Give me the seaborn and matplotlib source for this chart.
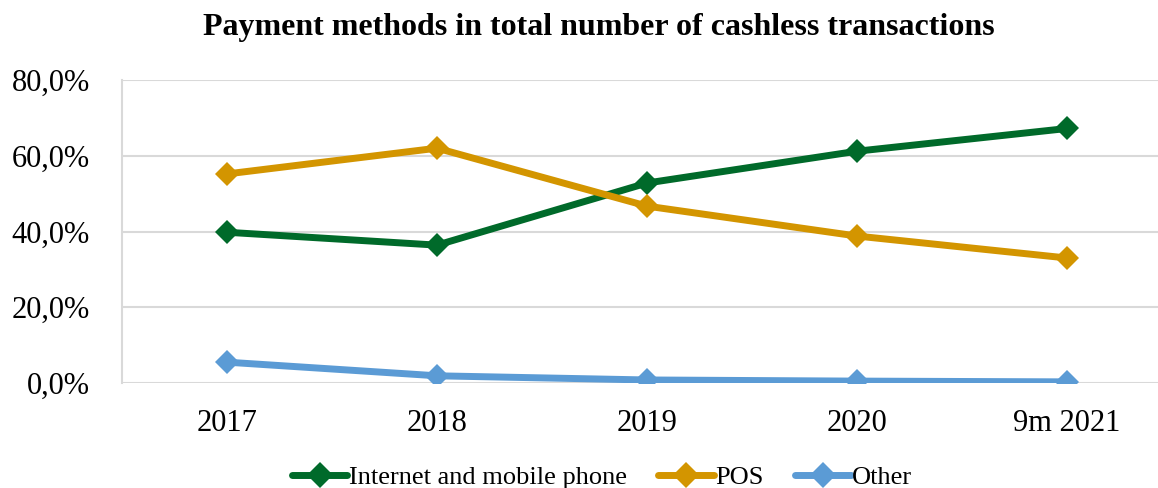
import pandas as pd
import seaborn as sns
import matplotlib.pyplot as plt
from matplotlib.ticker import FuncFormatter

years = ["2017", "2018", "2019", "2020", "9m 2021"]
internet = [39.8, 36.4, 52.8, 61.2, 67.2]
pos = [55.2, 62.0, 46.7, 38.8, 33.0]
other = [5.5, 1.9, 0.8, 0.5, 0.3]
series = ["Internet and mobile phone", "POS", "Other"]
colors = ["#006A2A", "#D39500", "#5B9BD5"]

df = pd.DataFrame({
    "year": years * 3,
    "share": internet + pos + other,
    "method": [s for s in series for _ in years],
})

sns.set_style("white")
plt.rcParams["font.family"] = ["Liberation Serif", "DejaVu Serif"]
plt.rcParams["text.color"] = "black"
plt.rcParams["xtick.color"] = "black"
plt.rcParams["ytick.color"] = "black"

fig = plt.figure(figsize=(11.58, 4.88), dpi=100)
ax = fig.add_axes([122 / 1158, 1 - 383 / 488, 1050 / 1158, 303 / 488])

sns.lineplot(data=df, x="year", y="share", hue="method", style="method",
             palette=colors, markers=["D"] * 3, dashes=False, sort=False,
             linewidth=5, markersize=12, markeredgewidth=0, ax=ax, legend=False)

ax.set_ylim(0, 80)
ax.set_xlim(-0.5, 4.5)
ax.set_yticks([0, 20, 40, 60, 80])
ax.yaxis.set_major_formatter(FuncFormatter(lambda v, p: f"{v:.1f}%".replace(".", ",")))
ax.grid(axis="y", color="#d9d9d9", linewidth=1.5)
ax.set_axisbelow(True)
for s in ["top", "right", "bottom"]:
    ax.spines[s].set_visible(False)
ax.spines["left"].set_color("#d9d9d9")
ax.spines["left"].set_linewidth(1.5)
ax.tick_params(axis="both", labelsize=22, length=0, labelcolor="black")
ax.tick_params(axis="y", pad=23)
ax.tick_params(axis="x", pad=19)
ax.set_xlabel("")
ax.set_ylabel("")

fig.text(599 / 1158, 1 - 28 / 488, "Payment methods in total number of cashless transactions",
         ha="center", va="center", fontsize=23, fontweight="bold", color="black")

handles = [plt.Line2D([], [], color=c, lw=5, marker="D", markersize=13, markeredgewidth=0)
           for c in colors]
fig.legend(handles, series, loc="center", bbox_to_anchor=(602 / 1158, 1 - 477 / 488),
           ncol=3, frameon=False, fontsize=19, handlelength=2.1, handletextpad=0.05,
           columnspacing=1.2, labelcolor="black")

plt.savefig("out.png", dpi=100)
